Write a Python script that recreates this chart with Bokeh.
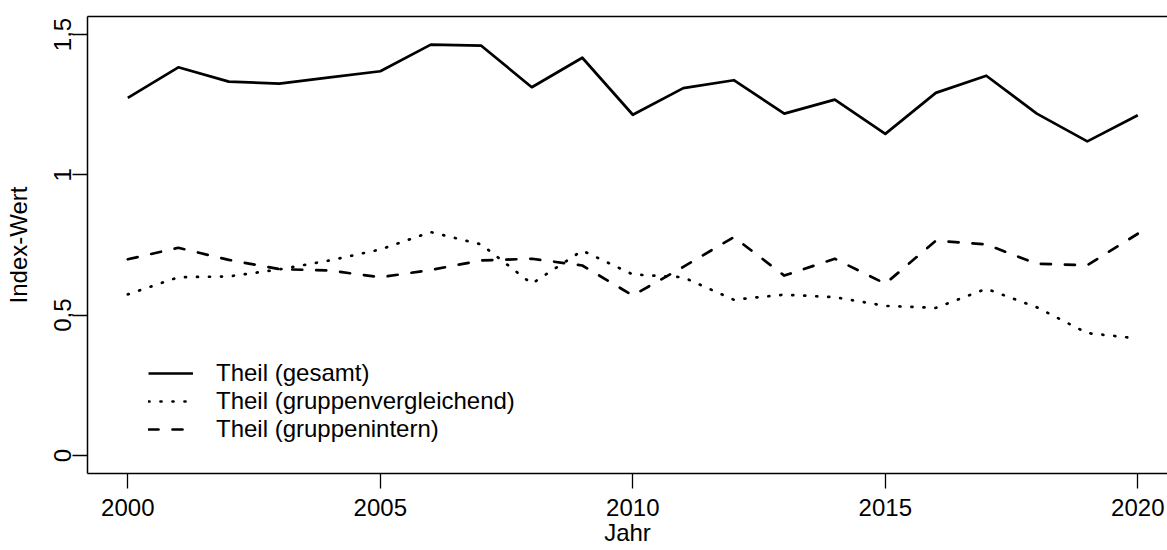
from bokeh.plotting import figure
from bokeh.models import FixedTicker, Legend, LegendItem, LinearAxis, Range1d
from bokeh.embed import file_html
from bokeh.resources import INLINE

years = list(range(2000, 2021))
theil_gesamt = [1.274, 1.383, 1.332, 1.325, 1.347, 1.369, 1.464, 1.460, 1.312, 1.417,
                1.214, 1.309, 1.337, 1.218, 1.268, 1.146, 1.292, 1.353, 1.218, 1.119, 1.212]
theil_vergleich = [0.574, 0.635, 0.638, 0.663, 0.695, 0.734, 0.796, 0.752, 0.612, 0.730,
                   0.645, 0.635, 0.555, 0.573, 0.564, 0.533, 0.526, 0.594, 0.528, 0.436, 0.417]
theil_intern = [0.699, 0.740, 0.697, 0.664, 0.659, 0.635, 0.661, 0.695, 0.701, 0.677,
                0.570, 0.672, 0.778, 0.641, 0.701, 0.612, 0.765, 0.752, 0.683, 0.678, 0.790]
series_labels = ["Theil (gesamt)", "Theil (gruppenvergleichend)", "Theil (gruppenintern)"]
x_ticks = [2000, 2005, 2010, 2015, 2020]
y_ticks = [0, 0.5, 1, 1.5]
y_tick_labels = ["0", "0,5", "1", "1,5"]
x_title = "Jahr"
y_title = "Index-Wert"

FONT = "Liberation Sans"
FS = "24px"

p = figure(width=1167, height=550, output_backend="svg", toolbar_location=None,
           x_range=Range1d(1999.202, 2020.588), y_range=Range1d(-0.0641, 1.564),
           min_border_left=87, min_border_right=0, min_border_top=16, min_border_bottom=77)
p.outline_line_color = None
p.xgrid.grid_line_color = None
p.ygrid.grid_line_color = None
p.background_fill_color = "white"
p.border_fill_color = "white"

lw = 2.7
r1 = p.line(years, theil_gesamt, line_color="black", line_width=lw, line_join="round")
r2 = p.line(years, theil_vergleich, line_color="black", line_width=lw, line_join="round",
            line_cap="round", line_dash="1 11")
r3 = p.line(years, theil_intern, line_color="black", line_width=lw, line_join="round",
            line_cap="round", line_dash="10 14")

for ax in (p.xaxis[0], p.yaxis[0]):
    ax.axis_line_color = "black"
    ax.axis_line_width = 1.5
    ax.major_tick_line_color = "black"
    ax.major_tick_line_width = 1.3
    ax.major_tick_out = 15
    ax.major_tick_in = 0
    ax.minor_tick_out = 0
    ax.minor_tick_in = 0
    ax.major_label_text_font = FONT
    ax.major_label_text_font_size = FS
    ax.major_label_text_color = "black"
    ax.axis_label_text_font = FONT
    ax.axis_label_text_font_size = FS
    ax.axis_label_text_font_style = "normal"
    ax.axis_label_text_color = "black"

p.xaxis.ticker = FixedTicker(ticks=x_ticks, minor_ticks=[])
p.xaxis.major_label_standoff = 10
p.xaxis.axis_label = x_title
p.xaxis.axis_label_standoff = 0

p.yaxis.ticker = FixedTicker(ticks=y_ticks, minor_ticks=[])
p.yaxis.major_label_overrides = {t: l for t, l in zip(y_ticks, y_tick_labels)}
p.yaxis.major_label_orientation = "vertical"
p.yaxis.major_label_standoff = 1
p.yaxis.axis_label = y_title
p.yaxis.axis_label_standoff = 20

top = LinearAxis(ticker=FixedTicker(ticks=[], minor_ticks=[]), major_tick_out=0, major_tick_in=0,
                 minor_tick_out=0, minor_tick_in=0, major_label_standoff=0,
                 axis_line_color="black", axis_line_width=1.5)
p.add_layout(top, "above")

legend = Legend(items=[LegendItem(label=series_labels[0], renderers=[r1]),
                       LegendItem(label=series_labels[1], renderers=[r2]),
                       LegendItem(label=series_labels[2], renderers=[r3])],
                location=(61, 30), orientation="vertical",
                glyph_width=45, glyph_height=28, label_height=28, label_standoff=23,
                spacing=0, padding=0, margin=0,
                border_line_color=None, background_fill_alpha=0,
                label_text_font=FONT, label_text_font_size=FS, label_text_color="black")
p.add_layout(legend)

open("out.html", "w").write(file_html(p, INLINE))
